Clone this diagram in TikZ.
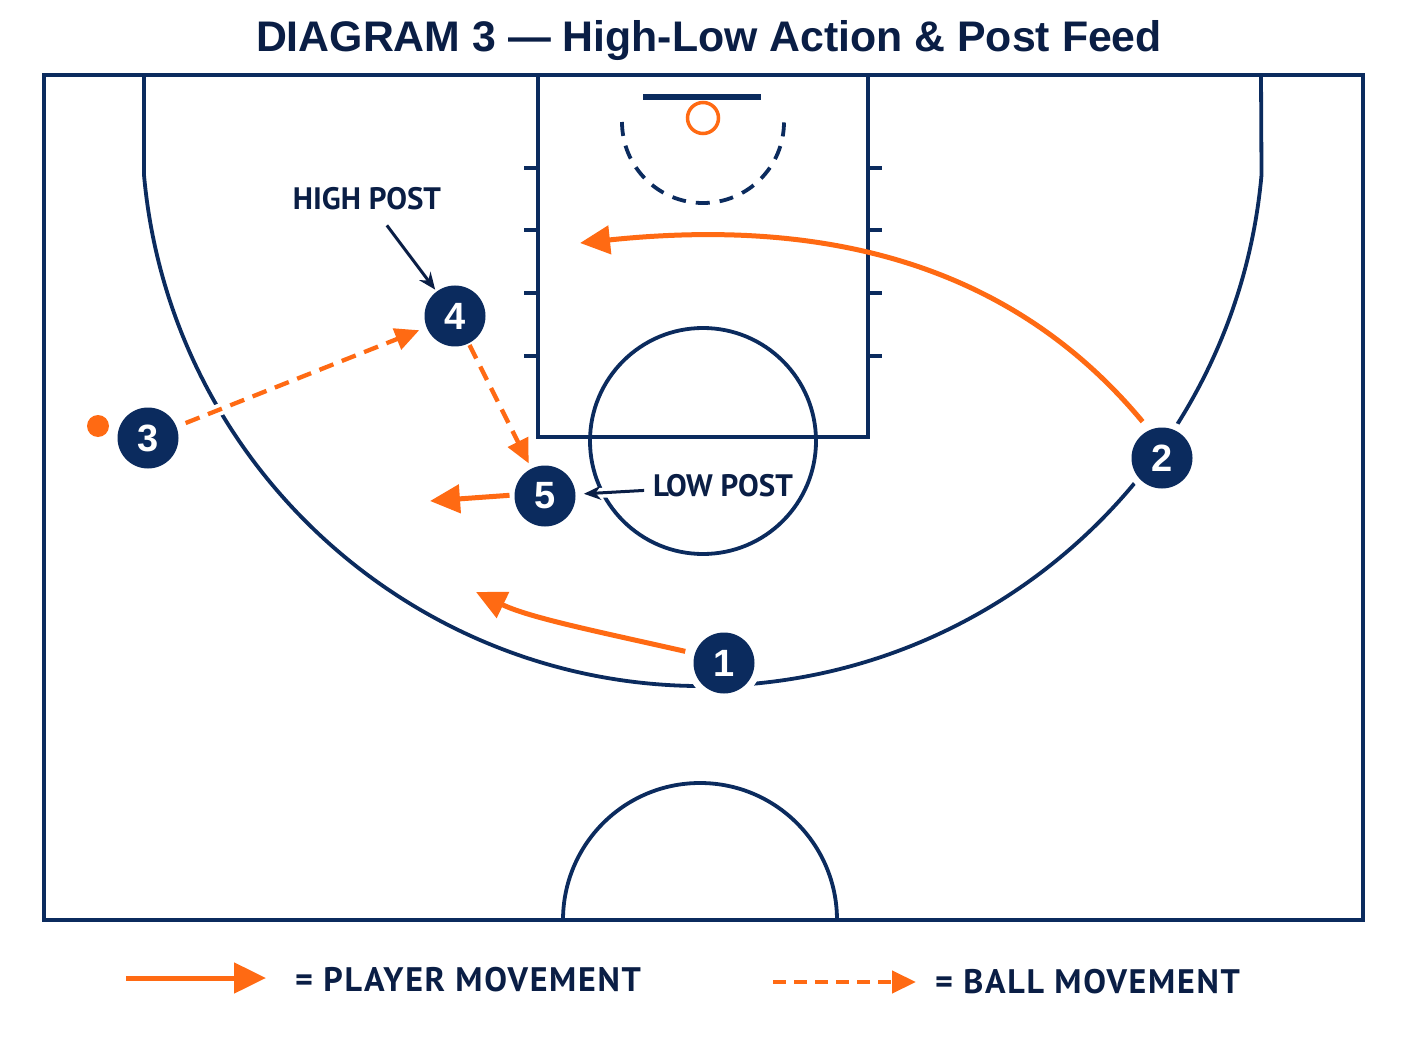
\documentclass[tikz,border=0pt]{standalone}
\usepackage{fontspec}
\setmainfont{Liberation Sans}
\newfontfamily\lblfont{PT Sans}
\newfontfamily\legfont[LetterSpace=5]{PT Sans}
\usetikzlibrary{arrows.meta}
\definecolor{navy}{HTML}{0B2B5E}
\definecolor{ink}{HTML}{0A1E45}
\definecolor{orng}{HTML}{FF6A13}
\begin{document}
\begin{tikzpicture}[x=1pt,y=-1pt,
  court/.style={draw=navy, line width=3.8pt},
  player/.style={circle, fill=navy, minimum size=61pt, inner sep=0pt, outer sep=0pt,
    preaction={draw=white, line width=14pt},
    text=white, font=\bfseries\fontsize{38}{38}\selectfont},
  move/.style={draw=orng, line width=5pt, -{Triangle[length=30pt,width=28pt]}},
  pass/.style={draw=orng, line width=4.3pt, dash pattern=on 15pt off 9pt,
    -{Triangle[length=24pt,width=22pt]}},
  callout/.style={draw=ink, line width=3pt, -{Stealth[length=17pt,width=14pt]},
    preaction={draw=white, line width=10pt, -}},
  tag/.style={text=ink, font=\lblfont\bfseries\fontsize{31}{31}\selectfont, inner sep=0pt},
  legendtxt/.style={text=ink, font=\legfont\bfseries\fontsize{34}{34}\selectfont, inner sep=0pt, anchor=west},
]
\path[use as bounding box, fill=white] (0,0) rectangle (1408,1056);

% title
\node[text=ink, font=\bfseries\fontsize{42.8}{42.8}\selectfont, inner sep=0pt] (title) at (709,41) {DIAGRAM 3 — High-Low Action \& Post Feed};

% court
\draw[court, line width=4.5pt] (44,75) rectangle (1363,920);
\draw[court] (538,75) -- (538,437) -- (868,437) -- (868,75);
\foreach \yy in {168,230,293,356} {
  \draw[court] (524,\yy) -- (538,\yy);
  \draw[court] (868,\yy) -- (882,\yy);
}
\draw[navy, line width=6pt] (643,97) -- (761,97);
\draw[orng, line width=3.5pt] (703,118) circle[radius=15.5pt];
\draw[court, dash pattern=on 14pt off 10pt] (622,122) arc[start angle=180, end angle=360, radius=81pt];
\draw[court] (703,441) circle[radius=113pt];
\draw[court] (144,75) -- (144,175) arc[start angle=185.11, end angle=354.89, radius=561pt] -- (1261,75);
\draw[court] (563,920) arc[start angle=180, end angle=0, radius=137pt];

% players
\node[player] (p1) at (724,663) {1};
\node[player] (p2) at (1162,458) {2};
\node[player] (p3) at (148,438) {3};
\node[player] (p4) at (455,316) {4};
\node[player] (p5) at (545,496) {5};
\node[circle, fill=orng, minimum size=22pt, inner sep=0pt] (ball) at (98,426) {};

% labels
\node[tag] (hp) at (367,199) {HIGH POST};
\node[tag] (lp) at (723,486) {LOW POST};
\draw[callout, shorten <=33pt, shorten >=33pt] (hp.center) -- (p4.center);
\draw[callout, shorten <=79pt, shorten >=39pt] (lp.center) -- (p5.center);

% movements
\coordinate (e2) at (580,243);
\coordinate (e1) at (476,592);
\coordinate (e5) at (430,501);
\draw[move, shorten <=11pt] (p2.114) .. controls (1000,250) and (800,220) .. (e2);
\draw[move, shorten <=10pt] (p1.162) .. controls (600,632) and (530,618) .. (e1);
\draw[move, shorten <=5pt] (p5.178) -- (e5);
\draw[pass, shorten <=10pt, shorten >=8pt, preaction={draw=white, line width=12pt, solid, -}] (p3) -- (p4);
\draw[pass, shorten <=2pt, shorten >=6pt] (p4) -- (p5);

% legend
\coordinate (la1) at (126,978);
\coordinate (la2) at (266,978);
\coordinate (lb1) at (773,982);
\coordinate (lb2) at (916,982);
\draw[move, -{Triangle[length=32pt,width=30pt]}] (la1) -- (la2);
\draw[pass, dash pattern=on 13pt off 8pt] (lb1) -- (lb2);
\node[legendtxt] (lt1) at (295,980) {= PLAYER MOVEMENT};
\node[legendtxt] (lt2) at (935,982) {= BALL MOVEMENT};
\end{tikzpicture}
\end{document}
